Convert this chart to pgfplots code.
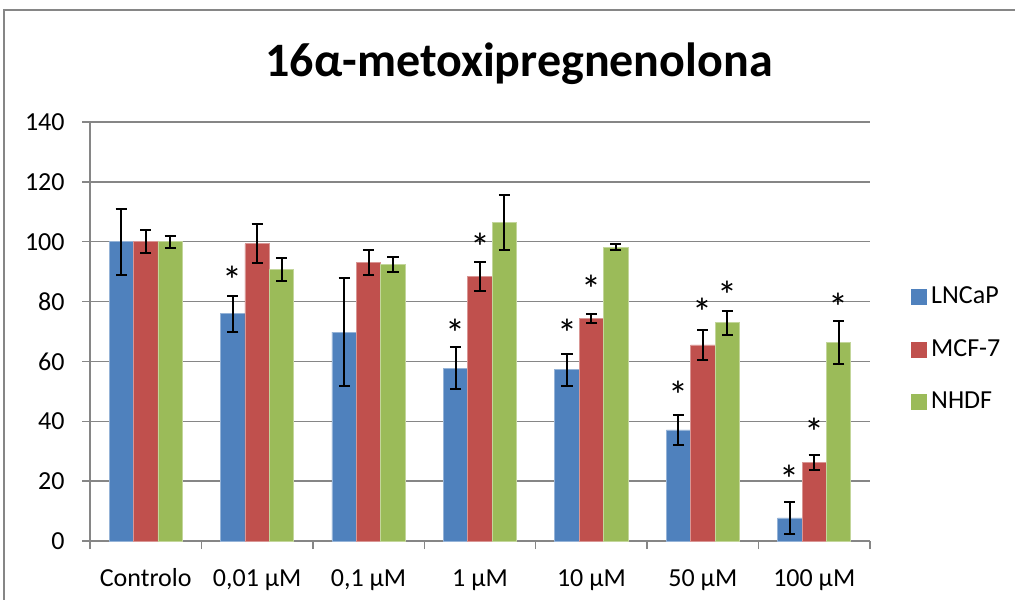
\documentclass[border=0pt]{standalone}
\usepackage{fontspec}
\setmainfont{Carlito}
\usepackage{pgfplots}
\pgfplotsset{compat=1.18}
\definecolor{cA}{HTML}{4F81BD}
\definecolor{cB}{HTML}{C0504D}
\definecolor{cC}{HTML}{9BBB59}
\definecolor{gr}{HTML}{868686}
\pgfplotsset{
  mybar/.style={fill=#1, draw=#1!60!white, line width=0.4pt,
    legend image code/.code={\fill[#1] (0pt,-3.75pt) rectangle (7.5pt,3.75pt);},
    error bars/.cd, y dir=both, y explicit,
    error bar style={black, line width=1pt},
    error mark options={black, line width=1pt, mark size=2.8pt, rotate=90},
    /pgfplots/.cd},
}
\begin{document}
\fontsize{13}{15.6}\selectfont
\begin{tikzpicture}[font=\fontsize{13}{15.6}\selectfont]
\begin{axis}[
  scale only axis, width=390pt, height=209.5pt,
  ybar=0pt, bar width=12.2pt,
  xmin=-0.5, xmax=6.5, ymin=0, ymax=140,
  ytick={0,20,...,140},
  ymajorgrids,
  grid style={gr, line width=0.75pt},
  axis x line*=bottom, axis y line*=left,
  axis line style={gr, line width=0.75pt},
  tick align=outside,
  major tick length=4pt, minor tick length=4pt,
  xtick={0,...,6},
  xticklabels={Controlo,{0,01 µM},{0,1 µM},{1 µM},{10 µM},{50 µM},{100 µM}},
  major x tick style={draw=none},
  minor xtick={-0.5,0.5,...,6.5},
  minor x tick style={gr, line width=0.75pt},
  ytick style={gr, line width=0.75pt},
  /pgf/number format/assume math mode=true,
  yticklabel style={anchor=east, inner sep=0pt, xshift=-8.5pt},
  xticklabel style={anchor=base, inner sep=0pt, yshift=-18.5pt},
  title={\bfseries\fontsize{24}{28}\selectfont 16α-metoxipregnenolona},
  title style={at={(0.55,1.0788)}, anchor=base, inner sep=0pt},
  legend style={at={(1.0526,0.457)}, anchor=west, draw=none, fill=none, inner sep=0pt,
    row sep=12pt, nodes={inner sep=2pt}},
  legend cell align=left,
]
\addplot[mybar=cA] coordinates {
 (0,100) +- (0,11) (1,76) +- (0,6) (2,69.8) +- (0,18) (3,57.7) +- (0,7)
 (4,57.2) +- (0,5.4) (5,37.1) +- (0,4.9) (6,7.7) +- (0,5.4)};
\addlegendentry{LNCaP}
\addplot[mybar=cB] coordinates {
 (0,100) +- (0,3.8) (1,99.3) +- (0,6.5) (2,93.1) +- (0,4.1) (3,88.4) +- (0,4.8)
 (4,74.5) +- (0,1.5) (5,65.5) +- (0,4.9) (6,26.1) +- (0,2.5)};
\addlegendentry{MCF-7}
\addplot[mybar=cC] coordinates {
 (0,100) +- (0,2) (1,90.7) +- (0,3.8) (2,92.4) +- (0,2.6) (3,106.4) +- (0,9.3)
 (4,98.2) +- (0,0.9) (5,72.9) +- (0,4) (6,66.3) +- (0,7.2)};
\addlegendentry{NHDF}
\end{axis}
\begin{axis}[
  scale only axis, width=390pt, height=209.5pt,
  xmin=-0.5, xmax=6.5, ymin=0, ymax=140, hide axis]
\addplot[only marks, mark=text, text mark={*}, text mark as node=true,
  text mark style={font=\fontsize{20}{24}\selectfont, text=black, anchor=center, inner sep=0pt, yshift=-3pt}] coordinates {
 (0.781,89) (2.781,71.4) (3,100.2) (3.781,71.4) (4,86.1) (4.781,50.7)
 (5,78.3) (5.219,84.2) (5.781,22.6) (6,38.2) (6.219,80)};
\end{axis}
\draw[gr, line width=0.75pt] (-43pt,-40pt) -- (-43pt,265.5pt) -- (480pt,265.5pt);
\pgfresetboundingbox
\path[use as bounding box] (-45pt,-29pt) rectangle (462.5pt,270.5pt);
\end{tikzpicture}
\end{document}
